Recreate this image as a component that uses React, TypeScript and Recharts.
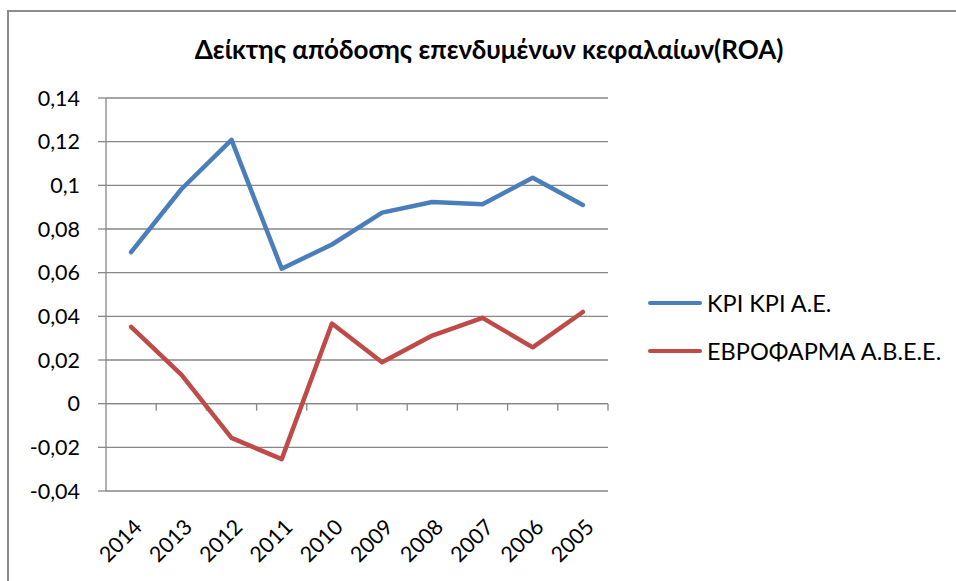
import React from 'react';
import { LineChart, Line, XAxis, YAxis, CartesianGrid, ReferenceLine } from 'recharts';

const years = ['2014', '2013', '2012', '2011', '2010', '2009', '2008', '2007', '2006', '2005'];
const kriValues = [0.0694, 0.0982, 0.1208, 0.0618, 0.0729, 0.0875, 0.0924, 0.0913, 0.1035, 0.091];
const evroValues = [0.0352, 0.0133, -0.0157, -0.0254, 0.0367, 0.019, 0.0312, 0.0393, 0.0258, 0.042];
const yTicks = [-0.04, -0.02, 0, 0.02, 0.04, 0.06, 0.08, 0.1, 0.12, 0.14];
const seriesNames = ['ΚΡΙ ΚΡΙ Α.Ε.', 'ΕΒΡΟΦΑΡΜΑ Α.Β.Ε.Ε.'];
const seriesColors = ['#4A7EBB', '#BE4B48'];
const title = 'Δείκτης απόδοσης επενδυμένων κεφαλαίων(ROA)';

const data = years.map((y, i) => ({ x: i + 0.5, year: y, kri: kriValues[i], evro: evroValues[i] }));
const labelTicks = years.map((_, i) => i + 0.5);
const boundaries = years.map((_, i) => i + 1);

const FONT = 'Lato, "Noto Sans", sans-serif';
const GRID = '#868686';

const fmt = (v: number) => Number(v.toFixed(2)).toString().replace('.', ',');

const XTick = (props: any) => {
  const { x, y, payload } = props;
  const idx = Math.floor(payload.value);
  return (
    <g transform={`translate(${x + 7},${y + 32})`}>
      <text
        textAnchor="end"
        dy="0.35em"
        transform="rotate(-45)"
        fontSize={21.5}
        fontFamily={FONT}
        fill="#000"
      >
        {years[idx]}
      </text>
    </g>
  );
};

const LegendBox = () => (
  <div style={{ position: 'absolute', left: 648, top: 279, fontFamily: FONT, fontSize: 23.5, color: '#000' }}>
    {seriesNames.map((n, i) => (
      <div key={n} style={{ display: 'flex', alignItems: 'center', height: 48 }}>
        <div style={{ width: 54, height: 4.5, borderRadius: 3, background: seriesColors[i], marginRight: 5 }} />
        <span style={{ whiteSpace: 'nowrap' }}>{n}</span>
      </div>
    ))}
  </div>
);

export default function App() {
  return (
    <div style={{ position: 'absolute', left: 0, top: 0, width: 956, height: 581, background: '#fff', overflow: 'hidden' }}>
      <div
        style={{
          position: 'absolute',
          left: 7,
          top: 10,
          width: 1000,
          height: 700,
          borderTop: '2px solid #8c8c8c',
          borderLeft: '2px solid #8c8c8c',
        }}
      />
      <div
        style={{
          position: 'absolute',
          left: 0,
          width: 978,
          top: 33,
          textAlign: 'center',
          fontFamily: FONT,
          fontWeight: 'bold',
          fontSize: 26,
          color: '#000',
        }}
      >
        {title}
      </div>
      <div style={{ position: 'absolute', left: 0, top: 0 }}>
        <LineChart
          width={956}
          height={581}
          data={data}
          margin={{ top: 98, right: 348, bottom: 89, left: 46 }}
        >
          <CartesianGrid vertical={false} stroke={GRID} strokeWidth={1.3} />
          <XAxis
            type="number"
            dataKey="x"
            domain={[0, 10]}
            ticks={labelTicks}
            interval={0}
            axisLine={false}
            tickLine={false}
            tickSize={0}
            tickMargin={0}
            height={1}
            tick={<XTick />}
          />
          <YAxis
            type="number"
            domain={[-0.04, 0.14]}
            ticks={yTicks}
            interval={0}
            width={60}
            tickFormatter={fmt}
            axisLine={{ stroke: GRID, strokeWidth: 1.3 }}
            tickLine={{ stroke: GRID, strokeWidth: 1.3 }}
            tickSize={8}
            tickMargin={18}
            tick={{ fontSize: 21.5, fontFamily: FONT, fill: '#000' }}
          />
          <ReferenceLine y={0} stroke={GRID} strokeWidth={1.3} />
          {boundaries.map((b) => (
            <ReferenceLine
              key={b}
              segment={[{ x: b, y: 0 }, { x: b, y: -0.0032 }]}
              stroke={GRID}
              strokeWidth={1.3}
            />
          ))}
          <Line
            type="linear"
            dataKey="kri"
            name={seriesNames[0]}
            stroke={seriesColors[0]}
            strokeWidth={4.5}
            dot={false}
            strokeLinecap="round"
            strokeLinejoin="round"
            isAnimationActive={false}
          />
          <Line
            type="linear"
            dataKey="evro"
            name={seriesNames[1]}
            stroke={seriesColors[1]}
            strokeWidth={4.5}
            dot={false}
            strokeLinecap="round"
            strokeLinejoin="round"
            isAnimationActive={false}
          />
        </LineChart>
      </div>
      <LegendBox />
    </div>
  );
}
